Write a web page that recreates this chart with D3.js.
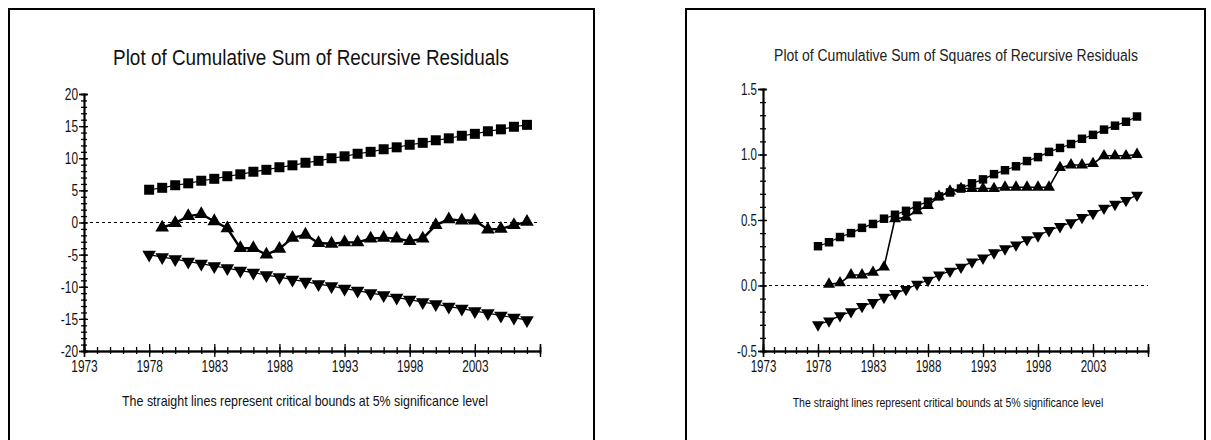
<!DOCTYPE html>
<html>
<head>
<meta charset="utf-8">
<script src="https://cdn.jsdelivr.net/npm/d3@7"></script>
<style>
  body { margin: 0; background: #fff; }
  svg { display: block; }
  text { font-family: "Liberation Sans Narrow", "Liberation Sans", Arial, sans-serif; fill: #111; }
</style>
</head>
<body>
<div id="grafico"></div>
<script>
// años
const anios = d3.range(1978, 2008);
const aniosCusum = d3.range(1979, 2008);

// CUSUM: bandas y serie
const cusumSup = [5.1, 5.4, 5.8, 6.1, 6.5, 6.8, 7.2, 7.5, 7.9, 8.2, 8.6, 8.9, 9.3, 9.6, 10.0,
  10.3, 10.7, 11.0, 11.4, 11.7, 12.1, 12.4, 12.8, 13.1, 13.5, 13.8, 14.2, 14.5, 14.9, 15.2];
const cusumInf = [-5.0, -5.4, -5.7, -6.1, -6.4, -6.8, -7.1, -7.5, -7.8, -8.2, -8.5, -8.9, -9.2, -9.6, -9.9,
  -10.3, -10.6, -11.0, -11.3, -11.7, -12.0, -12.4, -12.7, -13.1, -13.4, -13.8, -14.1, -14.5, -14.8, -15.2];
const cusum = [-0.8, -0.1, 1.0, 1.3, 0.2, -0.9, -4.0, -4.0, -5.0, -4.1, -2.4, -1.9, -3.2, -3.3, -3.1,
  -3.1, -2.5, -2.4, -2.5, -2.9, -2.5, -0.4, 0.5, 0.3, 0.3, -1.1, -1.0, -0.4, 0.1];

// CUSUMSQ: bandas y serie
const sqSup = [0.30, 0.33, 0.37, 0.40, 0.44, 0.47, 0.51, 0.54, 0.57, 0.61, 0.64, 0.68, 0.71, 0.74, 0.78,
  0.81, 0.85, 0.88, 0.91, 0.95, 0.98, 1.02, 1.05, 1.08, 1.12, 1.15, 1.19, 1.22, 1.25, 1.29];
const sqInf = [-0.30, -0.27, -0.23, -0.20, -0.16, -0.13, -0.09, -0.06, -0.03, 0.01, 0.04, 0.08, 0.11, 0.14, 0.18,
  0.21, 0.25, 0.28, 0.31, 0.35, 0.38, 0.42, 0.45, 0.48, 0.52, 0.55, 0.59, 0.62, 0.65, 0.69];
const cusumSq = [0.01, 0.02, 0.08, 0.08, 0.10, 0.14, 0.51, 0.52, 0.57, 0.61, 0.68, 0.72, 0.74, 0.74, 0.74,
  0.74, 0.75, 0.75, 0.75, 0.75, 0.75, 0.90, 0.92, 0.92, 0.93, 0.99, 0.99, 0.99, 1.00];

// ticks
const xMayores = [1973, 1978, 1983, 1988, 1993, 1998, 2003];
const yMayoresCusum = [-20, -15, -10, -5, 0, 5, 10, 15, 20];
const yMayoresSq = [-0.5, 0.0, 0.5, 1.0, 1.5];

const caption = "The straight lines represent critical bounds at 5% significance level";

const svg = d3.select("#grafico").append("svg").attr("width", 1211).attr("height", 440);

// comprime el texto en horizontal (fuente angosta)
function angosto(sel, sx) {
  sel.each(function () {
    const t = d3.select(this);
    const x0 = +t.attr("x") || 0;
    t.attr("x", x0 / sx).attr("transform", `scale(${sx},1)`);
  });
}

// texto centrado que ocupa un ancho dado
function textoAncho(g, txt, cx, cy, ancho, size, color) {
  const t = g.append("text")
    .attr("text-anchor", "middle")
    .attr("font-size", size)
    .style("fill", color)
    .text(txt);
  const sx = ancho / t.node().getComputedTextLength();
  t.attr("x", cx / sx).attr("y", cy).attr("transform", `scale(${sx},1)`);
}

function panel(cfg) {
  const g = svg.append("g");

  g.append("rect")
    .attr("x", cfg.frame[0]).attr("y", cfg.frame[1])
    .attr("width", cfg.frame[2]).attr("height", cfg.frame[3])
    .attr("fill", "none").attr("stroke", "#000").attr("stroke-width", 2);

  const x = d3.scaleLinear().domain([1973, 2008]).range(cfg.xr);
  const y = d3.scaleLinear().domain(cfg.yd).range(cfg.yr);

  // titulo
  textoAncho(g, cfg.title.text, cfg.title.x, cfg.title.y, cfg.title.w, cfg.title.size, cfg.title.color);

  // linea de cero punteada
  g.append("line")
    .attr("x1", x(1973)).attr("x2", x(2008))
    .attr("y1", y(0)).attr("y2", y(0))
    .attr("stroke", "#000").attr("stroke-width", 1.2)
    .attr("stroke-dasharray", "3,3");

  // Eje Y
  const yAxis = g.append("g").attr("transform", `translate(${x(1973)},0)`);
  yAxis.call(d3.axisLeft(y).tickValues(cfg.yMinor).tickSize(3).tickFormat(""));
  yAxis.append("g").call(d3.axisRight(y).tickValues(cfg.yMinor).tickSize(3).tickFormat(""));
  yAxis.append("g").call(d3.axisRight(y).tickValues(cfg.yMajor).tickSize(4).tickFormat(""));
  const yLab = yAxis.append("g").call(d3.axisLeft(y).tickValues(cfg.yMajor).tickSize(5).tickPadding(1).tickFormat(cfg.yFmt));
  yAxis.selectAll(".domain").attr("stroke-width", 1.4);
  yAxis.selectAll("line").attr("stroke-width", 1.3);
  yLab.attr("font-size", cfg.tickSize).attr("font-family", null);
  yLab.selectAll("text").call(angosto, 0.7);

  // Eje X
  const xAxis = g.append("g").attr("transform", `translate(0,${y(cfg.yd[0])})`);
  xAxis.call(d3.axisBottom(x).tickValues(d3.range(1973, 2009)).tickSize(3).tickFormat(""));
  xAxis.append("g").call(d3.axisTop(x).tickValues(d3.range(1973, 2009)).tickSize(4).tickFormat(""));
  xAxis.append("g").call(d3.axisTop(x).tickValues(xMayores.concat([2008])).tickSize(7).tickFormat(""));
  const xLab = xAxis.append("g").call(d3.axisBottom(x).tickValues(xMayores).tickSize(6).tickPadding(3).tickFormat((d) => String(d)));
  xAxis.selectAll(".domain").attr("stroke-width", 1.4);
  xAxis.selectAll("line").attr("stroke-width", 1.3);
  xLab.attr("font-size", cfg.tickSize).attr("font-family", null);
  xLab.selectAll("text").call(angosto, 0.7);
  g.selectAll(".tick text").attr("fill", "#111");

  // series
  const linea = d3.line().x((d) => x(d[0])).y((d) => y(d[1]));
  const series = [
    { yrs: anios, vals: cfg.sup, sym: d3.symbolSquare, size: cfg.sqSize, w: 1.2, rot: 0 },
    { yrs: anios, vals: cfg.inf, sym: d3.symbolTriangle, size: cfg.triSize, w: 1.2, rot: 180 },
    { yrs: aniosCusum, vals: cfg.serie, sym: d3.symbolTriangle, size: cfg.triSize, w: cfg.serieW, rot: 0 },
  ];
  series.forEach((s) => {
    const pts = s.yrs.map((a, i) => [a, s.vals[i]]);
    g.append("path").datum(pts)
      .attr("d", linea).attr("fill", "none")
      .attr("stroke", "#000").attr("stroke-width", s.w);
    g.append("g").selectAll("path").data(pts).join("path")
      .attr("d", d3.symbol().type(s.sym).size(s.size))
      .attr("transform", (d) => `translate(${x(d[0])},${y(d[1])}) rotate(${s.rot})`)
      .attr("fill", "#000");
  });

  // leyenda inferior
  textoAncho(g, caption, cfg.cap.x, cfg.cap.y, cfg.cap.w, cfg.cap.size, "#111");
}

panel({
  frame: [9, 9, 585, 460],
  xr: [84, 540], yd: [-20, 20], yr: [351, 94],
  yMajor: yMayoresCusum, yMinor: d3.range(-20, 21, 1), yFmt: (d) => String(d),
  tickSize: 17,
  title: { x: 311, y: 65, w: 396, size: 22, text: "Plot of Cumulative Sum of Recursive Residuals", color: "#111" },
  cap: { x: 305, y: 406, w: 366, size: 14.5 },
  sup: cusumSup, inf: cusumInf, serie: cusum, serieW: 2.4,
  sqSize: 100, triSize: 80,
});

panel({
  frame: [686, 9, 519, 460],
  xr: [763, 1148], yd: [-0.5, 1.5], yr: [351, 89],
  yMajor: yMayoresSq, yMinor: d3.range(-5, 16, 1).map((d) => d / 10), yFmt: (d) => d.toFixed(1),
  tickSize: 16.5,
  title: { x: 956, y: 61, w: 364, size: 17, text: "Plot of Cumulative Sum of Squares of Recursive Residuals", color: "#222" },
  cap: { x: 948, y: 407, w: 311, size: 13 },
  sup: sqSup, inf: sqInf, serie: cusumSq, serieW: 1.6,
  sqSize: 72, triSize: 62,
});
</script>
</body>
</html>
